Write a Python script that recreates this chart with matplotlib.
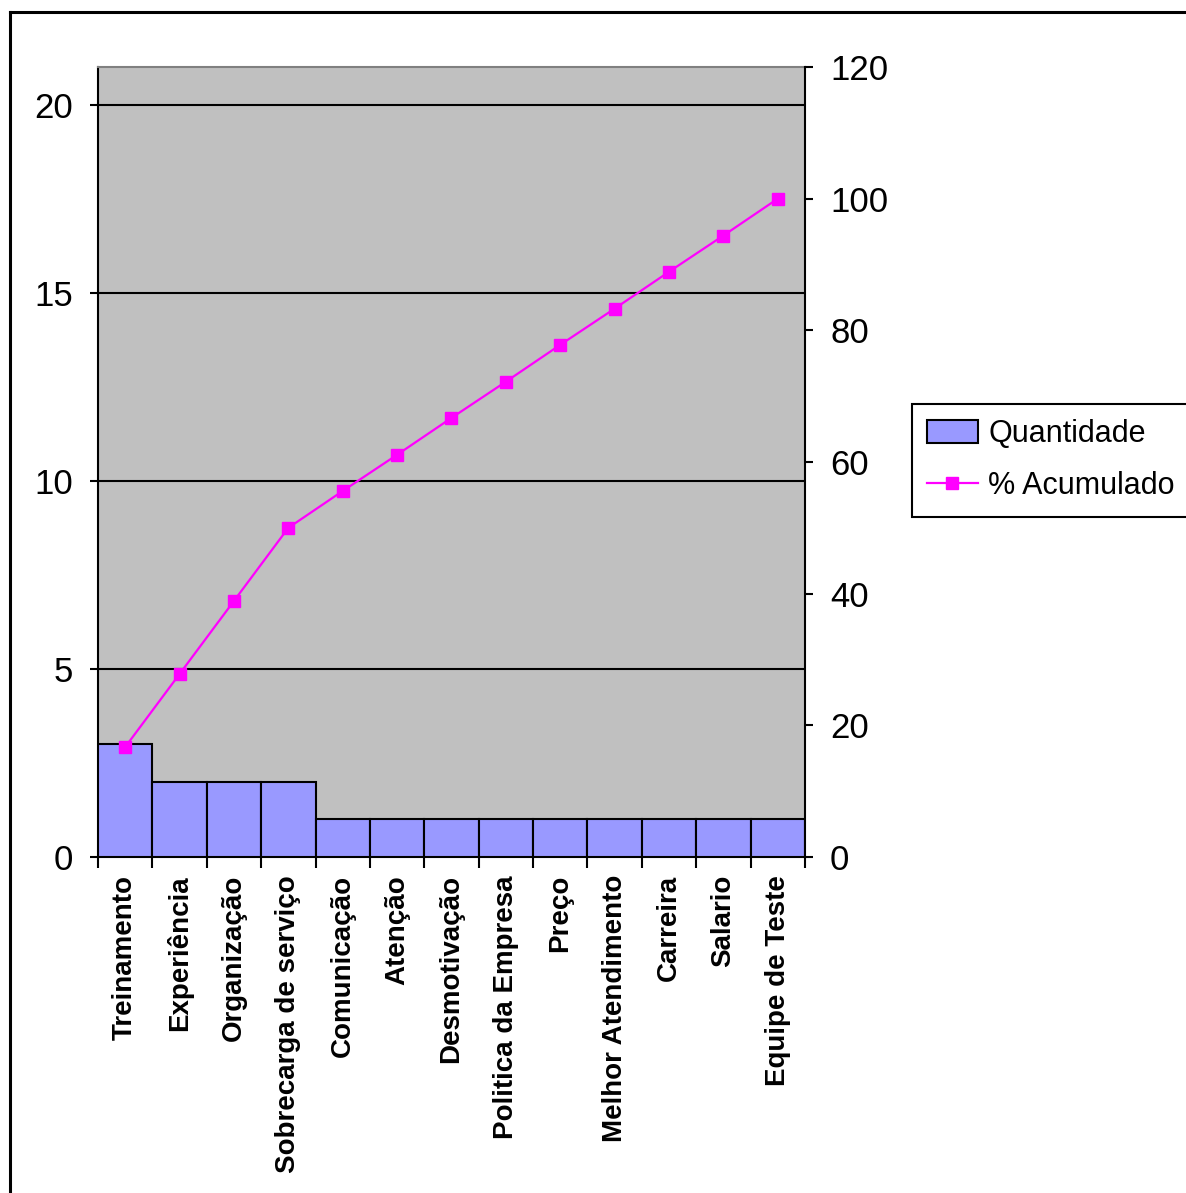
import matplotlib.pyplot as plt
from matplotlib.lines import Line2D
import numpy as np

plt.rcParams['font.family'] = ['Liberation Sans', 'DejaVu Sans']

# data
categorias = ['Treinamento', 'Experiência', 'Organização', 'Sobrecarga de serviço',
              'Comunicação', 'Atenção', 'Desmotivação', 'Politica da Empresa',
              'Preço', 'Melhor Atendimento', 'Carreira', 'Salario', 'Equipe de Teste']
quantidade = [3, 2, 2, 2, 1, 1, 1, 1, 1, 1, 1, 1, 1]
acumulado = [16.7, 27.8, 38.9, 50.0, 55.6, 61.1, 66.7, 72.2, 77.8, 83.3, 88.9, 94.4, 100.0]

W, H = 1186, 1193
fig = plt.figure(figsize=(W / 100, H / 100), dpi=100)

# outer chart border (runs off the right/bottom of the image)
fig.add_artist(Line2D([10 / W, 1.0], [1 - 12 / H, 1 - 12 / H], color='black', lw=2.2))
fig.add_artist(Line2D([10 / W, 10 / W], [0.0, 1 - 12 / H], color='black', lw=2.2))

ax = fig.add_axes([98 / W, 1 - 857 / H, (805 - 98) / W, (857 - 67) / H])
ax.set_facecolor('#C0C0C0')

x = np.arange(len(categorias)) + 0.5
ax.bar(x, quantidade, width=1.0, color='#9999FF', edgecolor='black', linewidth=1.5,
       label='Quantidade', zorder=3)

ax.set_xlim(0, len(categorias))
ax.set_ylim(0, 21)
ax.set_yticks([0, 5, 10, 15, 20])
for v in [5, 10, 15, 20]:
    ax.axhline(v, color='black', lw=1.5, zorder=1)

# ticks at category boundaries, labels at category centres
ax.set_xticks(np.arange(len(categorias) + 1))
ax.set_xticklabels([])
ax.set_xticks(x, minor=True)
ax.set_xticklabels(categorias, minor=True, rotation=90, fontsize=20,
                   fontweight='bold', va='top', ha='center')
ax.tick_params(axis='x', which='major', length=8, width=1.5, direction='out')
ax.tick_params(axis='x', which='minor', length=0, pad=13)
ax.tick_params(axis='y', length=6, width=1.5, labelsize=25, pad=12)

for side in ['left', 'bottom']:
    ax.spines[side].set_linewidth(1.5)
ax.spines['top'].set_color('#808080')
ax.spines['top'].set_linewidth(1.5)
ax.spines['right'].set_visible(False)

ax2 = ax.twinx()
ax2.plot(x, acumulado, color='#FF00FF', lw=1.6, marker='s', markersize=8.5,
         label='% Acumulado', zorder=4)
ax2.set_ylim(0, 120)
ax2.set_yticks([0, 20, 40, 60, 80, 100, 120])
ax2.tick_params(axis='y', length=6, width=1.5, labelsize=25, pad=12)
ax2.spines['right'].set_linewidth(1.5)
for side in ['left', 'top', 'bottom']:
    ax2.spines[side].set_visible(False)

h1, l1 = ax.get_legend_handles_labels()
h2, l2 = ax2.get_legend_handles_labels()
leg = fig.legend(h1 + h2, l1 + l2, loc='upper left',
                 bbox_to_anchor=(912 / W, 1 - 404 / H), fontsize=22,
                 frameon=True, fancybox=False, framealpha=1, edgecolor='black',
                 handlelength=1.65, handleheight=0.8, handletextpad=0.35,
                 borderpad=0.5, labelspacing=0.72, borderaxespad=0)
leg.get_frame().set_linewidth(1.5)

fig.savefig('out.png', dpi=100)
